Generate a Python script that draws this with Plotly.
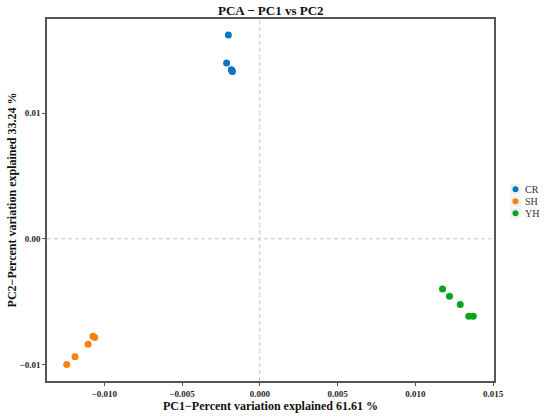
import plotly.graph_objects as go

groups = ["CR", "SH", "YH"]
colors = ["#0a75c2", "#ff7f0e", "#08a41c"]

cr_pc1 = [-0.00202, -0.00213, -0.00176, -0.00183, -0.00179]
cr_pc2 = [0.01622, 0.01398, 0.01331, 0.01345, 0.01339]
sh_pc1 = [-0.01241, -0.01188, -0.01104, -0.01072, -0.01061]
sh_pc2 = [-0.01000, -0.00939, -0.00838, -0.00775, -0.00785]
yh_pc1 = [0.01175, 0.01220, 0.01289, 0.01344, 0.01373]
yh_pc2 = [-0.00400, -0.00456, -0.00522, -0.00615, -0.00615]

xs = [cr_pc1, sh_pc1, yh_pc1]
ys = [cr_pc2, sh_pc2, yh_pc2]

x_ticks = [-0.010, -0.005, 0.000, 0.005, 0.010, 0.015]
x_labels = ["−0.010", "−0.005", "0.000", "0.005", "0.010", "0.015"]
y_ticks = [-0.01, 0.00, 0.01]
y_labels = ["−0.01", "0.00", "0.01"]

font_family = "Liberation Serif"
W, H = 550, 417
L, R, T, B = 47, 55.5, 19, 36.3
pw = W - L - R
ph = H - T - B

fig = go.Figure()
for g, c, x, y in zip(groups, colors, xs, ys):
    fig.add_trace(go.Scatter(
        x=x, y=y, mode="markers", name=g, showlegend=False,
        marker=dict(color=c, size=7, line=dict(width=0)),
    ))

fig.add_vline(x=0, line=dict(color="#c4c4c4", width=1, dash="4px,3px"), layer="below")
fig.add_hline(y=0, line=dict(color="#c4c4c4", width=1, dash="4px,3px"), layer="below")

# manual legend (ggplot style keys)
def px_x(p):
    return (p - L) / pw

def px_y(p):
    return 1 - (p - T) / ph

key_cy = [189, 201, 213]
for g, c, cy in zip(groups, colors, key_cy):
    fig.add_shape(type="rect", xref="paper", yref="paper",
                  x0=px_x(510.5), x1=px_x(521.5), y0=px_y(cy - 5.5), y1=px_y(cy + 5.5),
                  fillcolor="#f2f2f2", line=dict(width=0), layer="below")
    fig.add_shape(type="circle", xref="paper", yref="paper",
                  xsizemode="pixel", ysizemode="pixel",
                  xanchor=px_x(516), yanchor=px_y(cy),
                  x0=-3, x1=3, y0=-3, y1=3,
                  fillcolor=c, line=dict(width=0))
    fig.add_annotation(xref="paper", yref="paper", x=px_x(524), y=px_y(cy),
                       xanchor="left", yanchor="middle", showarrow=False,
                       text=g, font=dict(size=10, family=font_family, color="#333333"))

fig.update_layout(
    width=W, height=H,
    margin=dict(l=L, r=R, t=T, b=B, autoexpand=False),
    paper_bgcolor="white", plot_bgcolor="white",
    font=dict(family=font_family, color="#222222"),
    title=dict(text="<b>PCA − PC1 vs PC2</b>", x=(L + pw / 2) / W, xanchor="center",
               y=1 - 10 / H, yanchor="middle", font=dict(size=13, color="#111111")),
    showlegend=False,
    xaxis=dict(
        range=[-0.01368, 0.01506], tickvals=x_ticks,
        ticktext=["<b>%s</b>" % t for t in x_labels],
        showgrid=False, zeroline=False, showline=True, mirror=True,
        linecolor="#555555", linewidth=1.5, ticks="outside", ticklen=3,
        tickcolor="#555555", tickwidth=1,
        tickfont=dict(size=9, family=font_family, color="#262626"),
        title=dict(text="<b>PC1−Percent variation explained 61.61 %</b>",
                   font=dict(size=12, color="#111111"), standoff=0),
    ),
    yaxis=dict(
        range=[-0.01131, 0.01749], tickvals=y_ticks,
        ticktext=["<b>%s</b>" % t for t in y_labels],
        showgrid=False, zeroline=False, showline=True, mirror=True,
        linecolor="#555555", linewidth=1.5, ticks="outside", ticklen=3,
        tickcolor="#555555", tickwidth=1,
        tickfont=dict(size=9, family=font_family, color="#262626"),
        title=dict(text="<b>PC2−Percent variation explained 33.24 %</b>",
                   font=dict(size=12, color="#111111"), standoff=0),
    ),
)

fig.write_html("out.html", config={"displayModeBar": False},
               post_script="document.body.style.margin='0';document.body.style.overflow='hidden';")
